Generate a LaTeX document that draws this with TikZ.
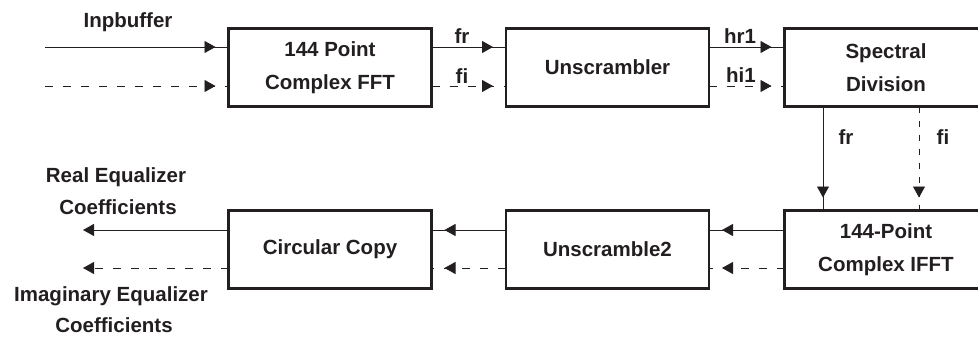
\documentclass[tikz,border=0pt]{standalone}
\usepackage{fontspec}
\setmainfont{Liberation Sans}
\usetikzlibrary{arrows.meta,decorations.markings}
\definecolor{ink}{RGB}{35,31,32}
\tikzset{
  blockbox/.style={draw=ink, line width=2.8pt, minimum width=203pt, minimum height=78pt,
    inner sep=0pt, outer sep=0pt, align=center, text=ink,
    font=\fontsize{20.5}{33}\selectfont\bfseries},
  lbl/.style={text=ink, inner sep=0pt, align=center,
    font=\fontsize{20.5}{30}\selectfont\bfseries},
  flow/.style={draw=ink, line width=0.9pt},
  imflow/.style={flow, dash pattern=on 8pt off 10pt},
  midtip/.style={postaction={decorate, decoration={markings,
    mark=at position -13pt with {\arrow{Triangle[length=11pt,width=12pt]}}}}},
  endtip/.style={-{Triangle[length=11pt,width=12pt]}},
}
\begin{document}
\begin{tikzpicture}[x=1pt,y=-1pt]
\useasboundingbox (0,0) rectangle (978,337);

% processing blocks
\node[blockbox] (fft)  at (330,67.5)   {144 Point\\Complex FFT};
\node[blockbox] (uns)  at (607.5,67.5) {Unscrambler};
\node[blockbox] (spec) at (886,67.5)   {Spectral\\Division};
\node[blockbox] (ifft) at (886,249.5)  {144-Point\\Complex IFFT};
\node[blockbox] (uns2) at (607.5,249.5){Unscramble2};
\node[blockbox] (circ) at (330,249.5)  {Circular Copy};

% free ends of the input and output lines
\coordinate (inre) at (45,47);
\coordinate (inim) at (45,86);
\coordinate (outre) at (83,230);
\coordinate (outim) at (83,268);

% input
\draw[flow, midtip]   (inre) -- ([yshift=20.5pt]fft.west);
\draw[imflow, midtip] (inim) -- ([yshift=-18.5pt]fft.west);
\node[lbl] (tin) at (128,22) {Inpbuffer};

% FFT -> Unscrambler
\draw[flow, midtip]   ([yshift=20.5pt]fft.east)  -- ([yshift=20.5pt]uns.west);
\draw[imflow, midtip] ([yshift=-18.5pt]fft.east) -- ([yshift=-18.5pt]uns.west);
\node[lbl] (tfr) at (462,36.5) {fr};
\node[lbl] (tfi) at (462,76) {fi};

% Unscrambler -> Spectral Division
\draw[flow, midtip]   ([yshift=20.5pt]uns.east)  -- ([yshift=20.5pt]spec.west);
\draw[imflow, midtip] ([yshift=-18.5pt]uns.east) -- ([yshift=-18.5pt]spec.west);
\node[lbl] (thr) at (740,36) {hr1};
\node[lbl] (thi) at (741,75) {hi1};

% Spectral Division -> IFFT
\draw[flow, midtip] ([xshift=-63pt]spec.south) -- ([xshift=-63pt]ifft.north);
\draw[flow, dash pattern=on 6pt off 8pt, midtip] ([xshift=33pt]spec.south) -- ([xshift=33pt]ifft.north);
\node[lbl] (tvr) at (846,137) {fr};
\node[lbl] (tvi) at (943,137) {fi};

% IFFT -> Unscramble2
\draw[flow, midtip]   ([yshift=19.5pt]ifft.west)  -- ([yshift=19.5pt]uns2.east);
\draw[imflow, midtip] ([yshift=-18.5pt]ifft.west) -- ([yshift=-18.5pt]uns2.east);

% Unscramble2 -> Circular Copy
\draw[flow, midtip]   ([yshift=19.5pt]uns2.west)  -- ([yshift=19.5pt]circ.east);
\draw[imflow, midtip] ([yshift=-18.5pt]uns2.west) -- ([yshift=-18.5pt]circ.east);

% outputs
\draw[flow, endtip]   ([yshift=19.5pt]circ.west)  -- (outre);
\draw[imflow, endtip] ([yshift=-18.5pt]circ.west) -- (outim);
\node[lbl] (tre1) at (116,177) {Real Equalizer};
\node[lbl] (tre2) at (118,207) {Coefficients};
\node[lbl] (tim1) at (111,296) {Imaginary Equalizer};
\node[lbl] (tim2) at (114,325) {Coefficients};
\end{tikzpicture}
\end{document}
